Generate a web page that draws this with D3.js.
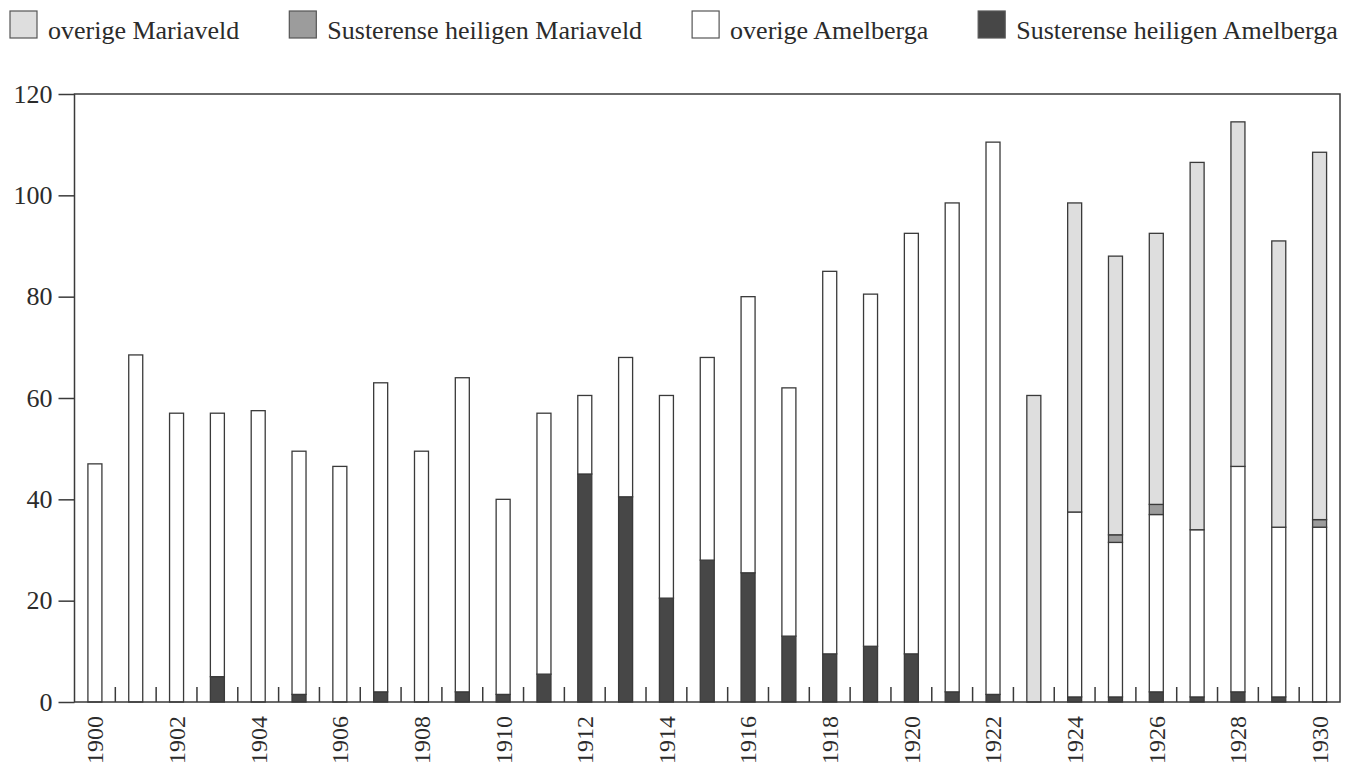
<!DOCTYPE html>
<html>
<head>
    <title>Amelberga en Mariaveld</title>
    <script src="https://d3js.org/d3.v7.min.js"></script>
    <style>
        body { margin: 0; background: #fff; }
        text {
            font-family: "Liberation Serif", "Times New Roman", serif;
            fill: #2b2b2b;
        }
        .bar { stroke: #3a3a3a; stroke-width: 1.3; }
        .frame { fill: none; stroke: #3a3a3a; stroke-width: 1.5; }
        .tick line { stroke: #3a3a3a; stroke-width: 1.5; }
        .inner-tick { stroke: #3a3a3a; stroke-width: 1.5; }
    </style>
</head>
<body>
    <script>

        var years = d3.range(1900, 1931);
        var susterenAmelberga = [0, 0, 0, 5, 0, 1.5, 0, 2, 0, 2, 1.5, 5.5, 45, 40.5, 20.5, 28, 25.5, 13, 9.5, 11, 9.5, 2, 1.5,
                                 0, 1, 1, 2, 1, 2, 1, 0];
        var overigAmelberga = [47, 68.5, 57, 52, 57.5, 48, 46.5, 61, 49.5, 62, 38.5, 51.5, 15.5, 27.5, 40, 40, 54.5, 49, 75.5, 69.5, 83, 96.5, 109,
                               0, 36.5, 30.5, 35, 33, 44.5, 33.5, 34.5];
        var susterenMariaveld = [0, 0, 0, 0, 0, 0, 0, 0, 0, 0, 0, 0, 0, 0, 0, 0, 0, 0, 0, 0, 0, 0, 0,
                                 0, 0, 1.5, 2, 0, 0, 0, 1.5];
        var overigMariaveld = [0, 0, 0, 0, 0, 0, 0, 0, 0, 0, 0, 0, 0, 0, 0, 0, 0, 0, 0, 0, 0, 0, 0,
                               60.5, 61, 55, 53.5, 72.5, 68, 56.5, 72.5];
        var yTicks = [0, 20, 40, 60, 80, 100, 120];
        var xLabels = d3.range(1900, 1931, 2);

        // stapelvolgorde van onder naar boven
        var seriesKeys = ["sa", "oa", "sm", "om"];
        var seriesNames = {
            om: "overige Mariaveld",
            sm: "Susterense heiligen Mariaveld",
            oa: "overige Amelberga",
            sa: "Susterense heiligen Amelberga"
        };
        var seriesColors = { sa: "#474747", oa: "#ffffff", sm: "#9c9c9c", om: "#dedede" };
        var legendOrder = ["om", "sm", "oa", "sa"];

        var width = 1356,
            height = 767,
            plotLeft = 74.5,
            plotRight = 1340,
            plotTop = 94,
            plotBottom = 702;

        var svg = d3.select("body").append("svg")
            .attr("width", width)
            .attr("height", height);

        var rows = years.map(function (yr, i) {
            return { year: yr, sa: susterenAmelberga[i], oa: overigAmelberga[i], sm: susterenMariaveld[i], om: overigMariaveld[i] };
        });

        var x = d3.scaleBand()
            .domain(years)
            .range([plotLeft, plotRight])
            .paddingInner(0.657)
            .paddingOuter(0.3285);

        var y = d3.scaleLinear()
            .domain([0, 120])
            .range([plotBottom, plotTop]);

        var stacked = d3.stack().keys(seriesKeys)(rows);

        // balken
        var layers = svg.append("g").selectAll("g")
            .data(stacked).enter().append("g")
            .attr("fill", function (d) { return seriesColors[d.key]; });

        layers.selectAll("rect")
            .data(function (d) { return d.filter(function (s) { return s[1] - s[0] > 0; }); })
            .enter().append("rect")
            .attr("class", "bar")
            .attr("x", function (d) { return x(d.data.year); })
            .attr("width", x.bandwidth())
            .attr("y", function (d) { return y(d[1]); })
            .attr("height", function (d) { return y(d[0]) - y(d[1]); });

        // kader
        svg.append("rect").attr("class", "frame")
            .attr("x", plotLeft).attr("y", plotTop)
            .attr("width", plotRight - plotLeft).attr("height", plotBottom - plotTop);

        // y-as
        var yAxis = svg.append("g")
            .attr("transform", "translate(" + plotLeft + ",0)")
            .call(d3.axisLeft(y).tickValues(yTicks).tickSize(16).tickPadding(6));
        yAxis.select(".domain").remove();
        yAxis.selectAll("text").style("font-size", "26px").attr("fill", "#2b2b2b");

        // kleine streepjes tussen de jaren
        var step = x.step();
        svg.append("g").selectAll("line")
            .data(years.slice(0, -1)).enter().append("line")
            .attr("class", "inner-tick")
            .attr("x1", function (d) { return x(d) + x.bandwidth() + (step - x.bandwidth()) / 2; })
            .attr("x2", function (d) { return x(d) + x.bandwidth() + (step - x.bandwidth()) / 2; })
            .attr("y1", plotBottom)
            .attr("y2", plotBottom - 15);

        // x-as labels
        var xAxis = svg.append("g")
            .attr("transform", "translate(0," + plotBottom + ")")
            .call(d3.axisBottom(x).tickValues(xLabels).tickSize(0));
        xAxis.select(".domain").remove();
        xAxis.selectAll("text")
            .style("font-size", "24px")
            .attr("fill", "#2b2b2b")
            .attr("text-anchor", "end")
            .attr("transform", "rotate(-90)")
            .attr("x", -14)
            .attr("y", 0)
            .attr("dy", "0.35em");

        // legenda
        var legend = svg.append("g");
        var lx = 10;
        legendOrder.forEach(function (k) {
            legend.append("rect")
                .attr("x", lx).attr("y", 11)
                .attr("width", 27).attr("height", 27)
                .attr("fill", seriesColors[k])
                .attr("stroke", "#555").attr("stroke-width", 1.2);
            var t = legend.append("text")
                .attr("x", lx + 38).attr("y", 39)
                .style("font-size", "26px")
                .text(seriesNames[k]);
            lx += 38 + t.node().getComputedTextLength() + 50;
        });

    </script>
</body>
</html>
